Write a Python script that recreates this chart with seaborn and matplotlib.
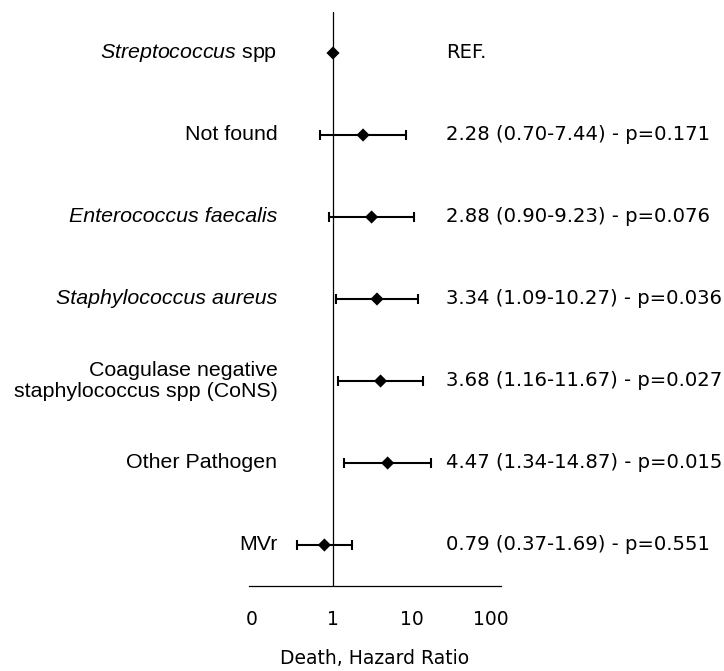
import numpy as np
import pandas as pd
import matplotlib
matplotlib.use("Agg")
import matplotlib.pyplot as plt
import matplotlib.transforms as mtransforms
import seaborn as sns

# ---- data ----
labels = [r"$\it{Streptococcus}$ spp", "Not found", "Enterococcus faecalis",
          "Staphylococcus aureus", "Coagulase negative\nstaphylococcus spp (CoNS)",
          "Other Pathogen", "MVr"]
label_italic = [False, False, True, True, False, False, False]
hr = [1.00, 2.28, 2.88, 3.34, 3.68, 4.47, 0.79]
ci_low = [np.nan, 0.70, 0.90, 1.09, 1.16, 1.34, 0.37]
ci_high = [np.nan, 7.44, 9.23, 10.27, 11.67, 14.87, 1.69]
p_values = [None, "0.171", "0.076", "0.036", "0.027", "0.015", "0.551"]
tick_values = [0.1, 1, 10, 100]
tick_labels = ["0", "1", "10", "100"]

df = pd.DataFrame({"label": labels, "hr": hr, "lo": ci_low, "hi": ci_high,
                   "row": np.arange(len(labels))})

sns.set_theme(style="white")
plt.rcParams["mathtext.fontset"] = "custom"
plt.rcParams["mathtext.rm"] = "Liberation Sans"
plt.rcParams["mathtext.it"] = "Liberation Sans:italic"

fig = plt.figure(figsize=(7.24, 6.71), dpi=100)
ax = fig.add_axes([249 / 724, 85 / 671, 252 / 724, 574 / 671])

ax.set_xscale("log")
ci = df.dropna(subset=["lo"])
ax.errorbar(ci["hr"], ci["row"],
            xerr=[ci["hr"] - ci["lo"], ci["hi"] - ci["hr"]],
            fmt="none", ecolor="black", elinewidth=1.5, capsize=3.3, capthick=1.5,
            zorder=2)
sns.scatterplot(data=df, x="hr", y="row", marker="D", s=45, color="black",
                edgecolor="none", ax=ax, zorder=3)
ax.axvline(1, color="black", lw=0.9, zorder=1)

ax.set_xlim(0.1, 100)
ax.set_ylim(6.5, -0.5)
ax.set_yticks([])
ax.set_ylabel("")
ax.set_xticks(tick_values)
ax.set_xticklabels(tick_labels)
ax.minorticks_off()
ax.tick_params(axis="x", length=0, pad=17, labelsize=13.5, labelcolor="black")
# small horizontal nudges of the tick labels (pixels) to mimic the reference layout
nudges_px = [3, 0, -5, -10]
for lab, dx in zip(ax.get_xticklabels(), nudges_px):
    lab.set_fontfamily("DejaVu Sans")
    lab.set_transform(lab.get_transform() +
                      mtransforms.ScaledTranslation(dx / 100, 0, fig.dpi_scale_trans))
ax.set_xlabel("Death, Hazard Ratio", fontsize=13.5, fontfamily="DejaVu Sans",
              labelpad=15, color="black")

for s in ["top", "right", "left"]:
    ax.spines[s].set_visible(False)
ax.spines["bottom"].set_color("black")
ax.spines["bottom"].set_linewidth(0.9)

trans = ax.get_yaxis_transform()
for i, row in df.iterrows():
    ax.text(0.113, row["row"], row["label"], transform=trans, ha="right",
            va="center", fontsize=15.4, fontfamily="Liberation Sans",
            style="italic" if label_italic[i] else "normal",
            multialignment="right", linespacing=1.1, color="black")
    if p_values[i] is None:
        txt = "REF."
    else:
        txt = f"{row['hr']:.2f} ({row['lo']:.2f}-{row['hi']:.2f}) - p={p_values[i]}"
    ax.text(0.782, row["row"], txt, transform=trans, ha="left", va="center",
            fontsize=14.1, fontfamily="DejaVu Sans", color="black", clip_on=False)

fig.savefig("out.png", dpi=100)
